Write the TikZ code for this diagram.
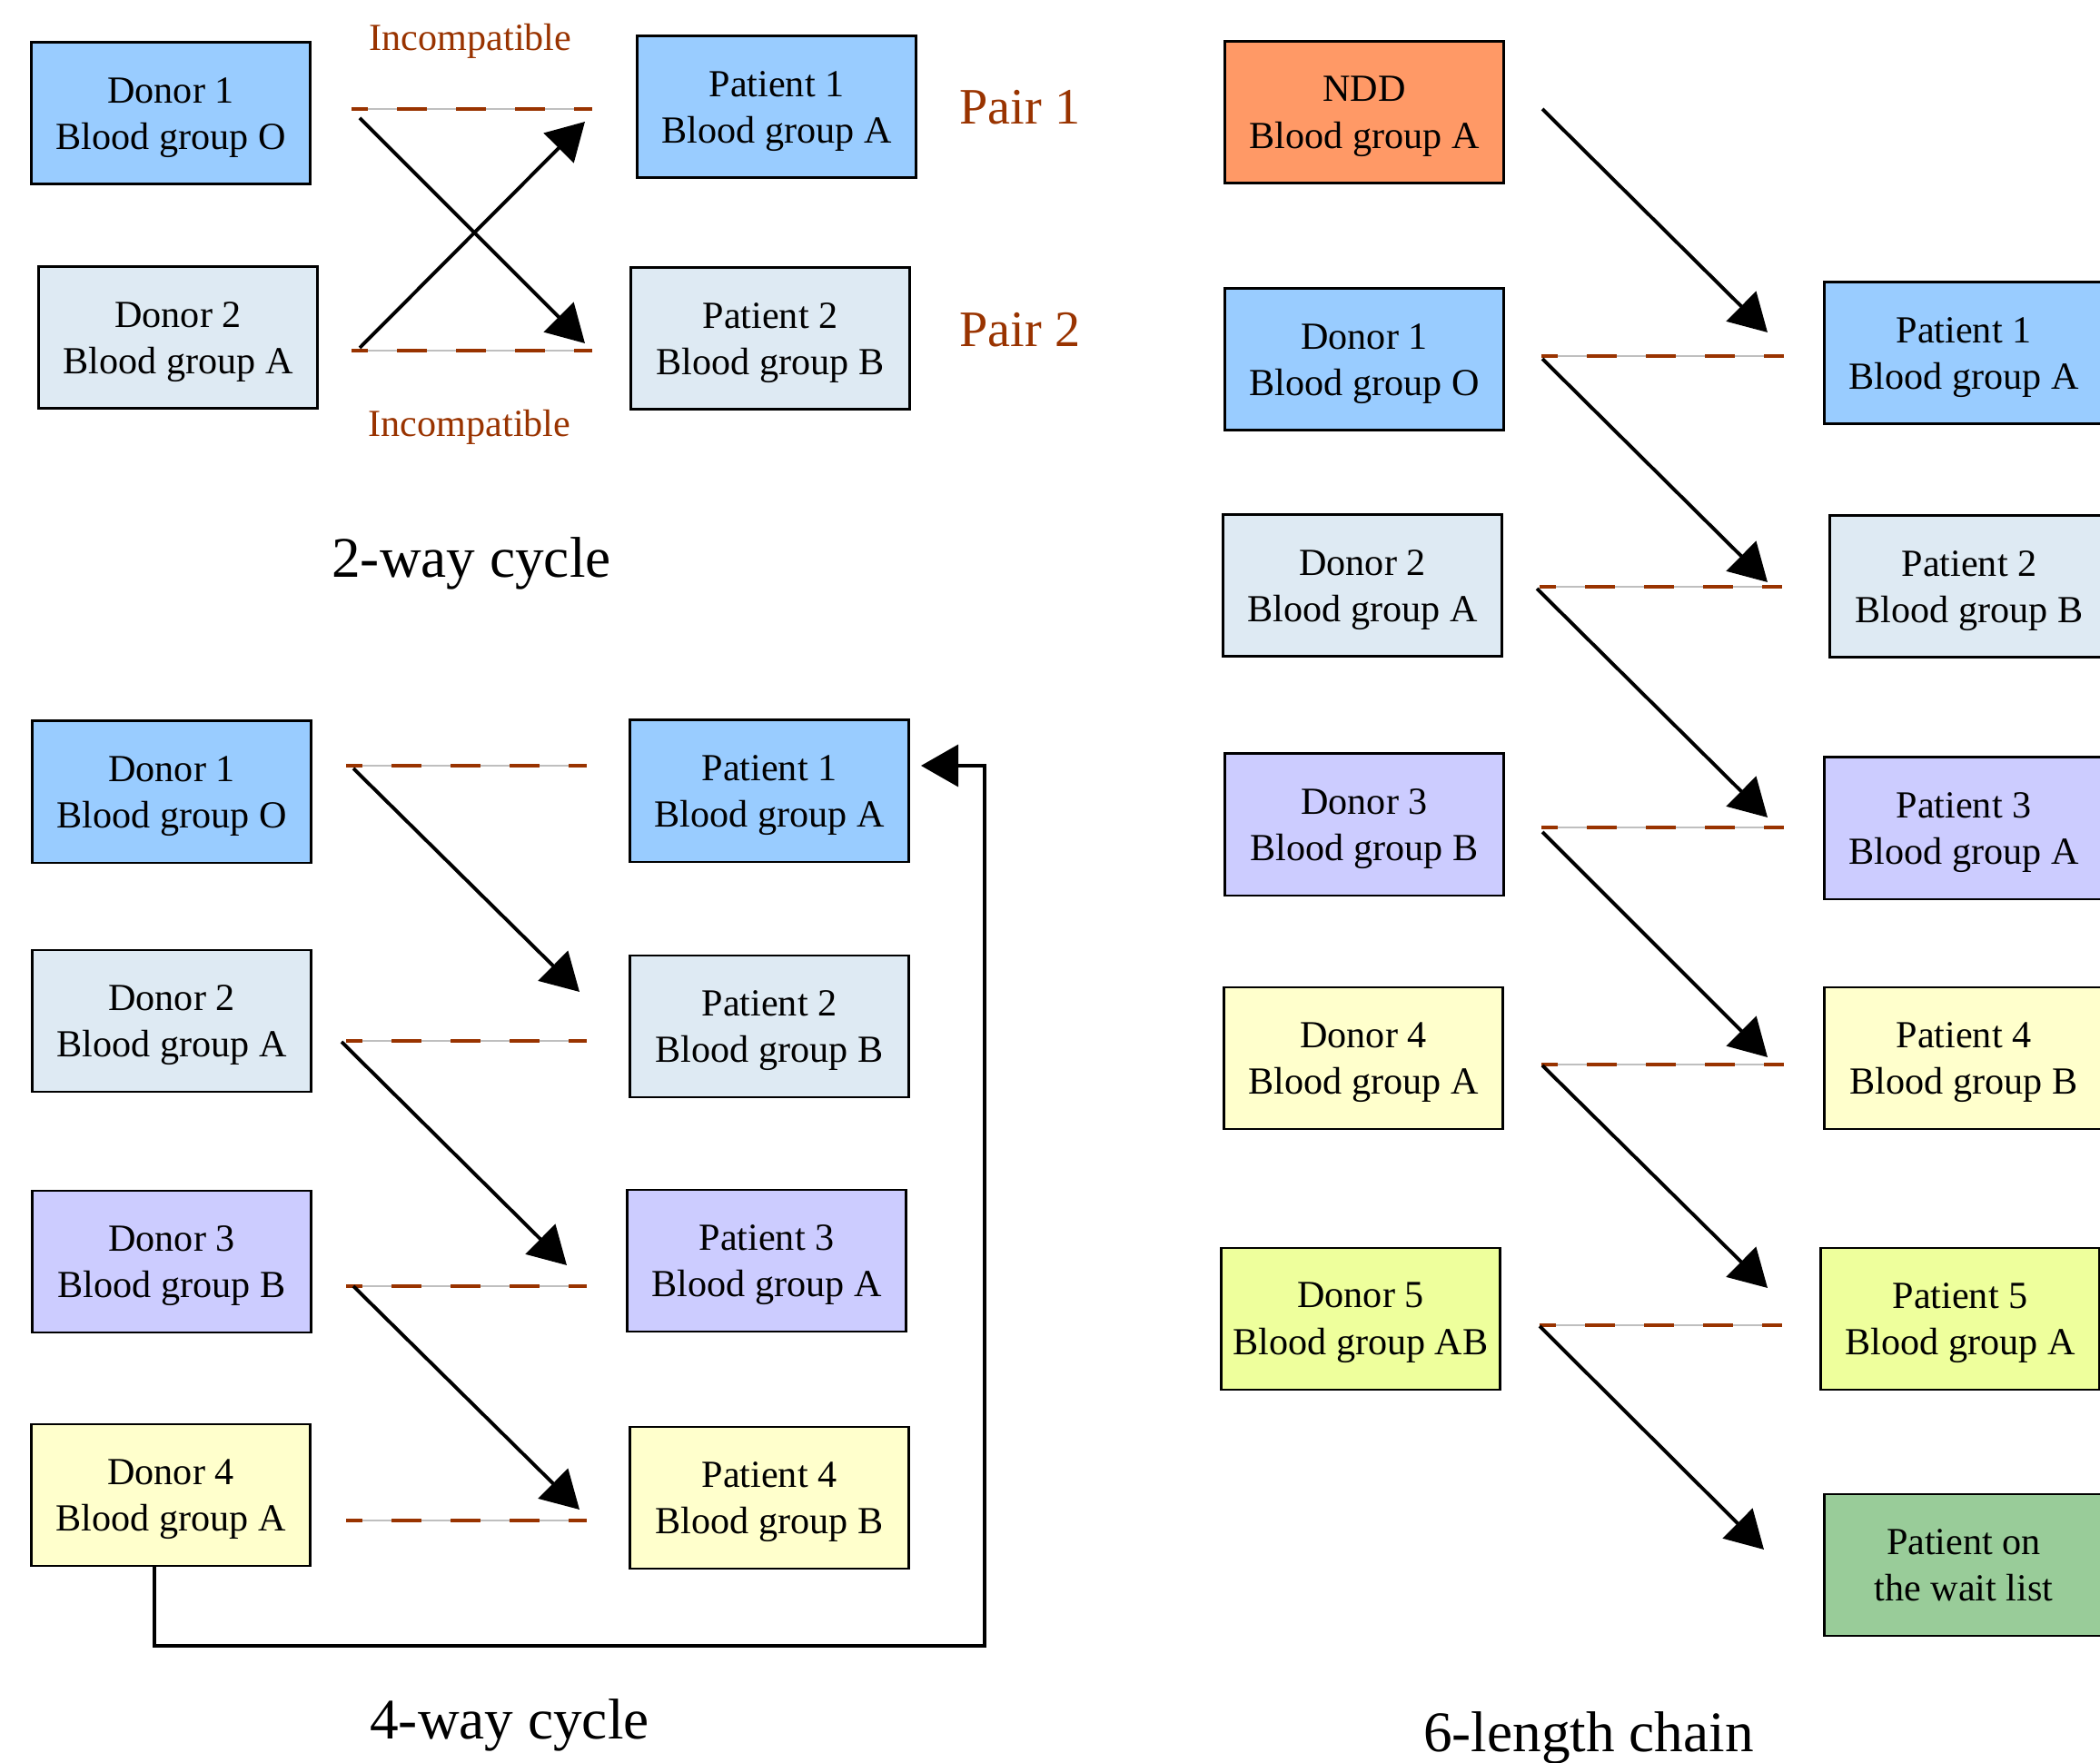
\documentclass[tikz,border=0pt]{standalone}
\usepackage{fontspec}
\setmainfont{Liberation Serif}
\usetikzlibrary{arrows.meta}
\definecolor{groupO}{HTML}{99CCFF}
\definecolor{groupA}{HTML}{DEEAF3}
\definecolor{groupB}{HTML}{CCCCFF}
\definecolor{groupC}{HTML}{FFFFCC}
\definecolor{groupD}{HTML}{EEFF9C}
\definecolor{nddcol}{HTML}{FF9966}
\definecolor{waitcol}{HTML}{99CC99}
\definecolor{incomp}{HTML}{993300}

\begin{document}
\begin{tikzpicture}
            \tikzstyle{box} = [draw, line width=0.85pt, minimum width=3.07cm, minimum height=1.56cm, align=center, text depth=0pt, font=\fontsize{12}{14.7}\selectfont]
            \tikzstyle{pairline} = [draw=black!25, line width=0.5pt, postaction={draw=incomp, line width=1.1pt, dash pattern=on 0.33cm off 0.32cm, dash phase=0.15cm}]
            \tikzstyle{give} = [line width=1.1pt, -{Triangle[length=0.41cm, width=0.46cm]}]
            \tikzstyle{note} = [text=incomp, font=\fontsize{12}{14}\selectfont]
            \tikzstyle{pairname} = [text=incomp, font=\fontsize{16}{19}\selectfont]
            \tikzstyle{title} = [font=\fontsize{18}{21}\selectfont]
            \useasboundingbox (0, 0) rectangle (23.12, -19.41);

            % 2-way cycle
            \node[box, fill=groupO] (twoD1) at (1.88, -1.25) {Donor 1\\Blood group O};
            \node[box, fill=groupA] (twoD2) at (1.96, -3.72) {Donor 2\\Blood group A};
            \node[box, fill=groupO] (twoP1) at (8.55, -1.18) {Patient 1\\Blood group A};
            \node[box, fill=groupA] (twoP2) at (8.48, -3.73) {Patient 2\\Blood group B};
            \node[note] (twoInc1) at (5.18, -0.45) {Incompatible};
            \node[note] (twoInc2) at (5.17, -4.70) {Incompatible};
            \node[pairname] (pair1) at (11.23, -1.18) {Pair 1};
            \node[pairname] (pair2) at (11.23, -3.63) {Pair 2};
            \node[title] (twoTitle) at (5.19, -6.20) {2-way cycle};
            \coordinate (twoL1) at (3.87, -1.20);
            \coordinate (twoR1) at (6.52, -1.20);
            \coordinate (twoL2) at (3.87, -3.86);
            \coordinate (twoR2) at (6.52, -3.86);
            \coordinate (twoS1) at (3.96, -1.30);
            \coordinate (twoT1) at (6.44, -3.78);
            \coordinate (twoS2) at (3.96, -3.83);
            \coordinate (twoT2) at (6.44, -1.34);
            \draw[pairline] (twoL1) -- (twoR1);
            \draw[pairline] (twoL2) -- (twoR2);
            \draw[give] (twoS1) -- (twoT1);
            \draw[give] (twoS2) -- (twoT2);

            % 4-way cycle
            \node[box, fill=groupO] (fourD1) at (1.89, -8.72) {Donor 1\\Blood group O};
            \node[box, fill=groupA] (fourD2) at (1.89, -11.24) {Donor 2\\Blood group A};
            \node[box, fill=groupB] (fourD3) at (1.89, -13.89) {Donor 3\\Blood group B};
            \node[box, fill=groupC] (fourD4) at (1.88, -16.46) {Donor 4\\Blood group A};
            \node[box, fill=groupO] (fourP1) at (8.47, -8.71) {Patient 1\\Blood group A};
            \node[box, fill=groupA] (fourP2) at (8.47, -11.30) {Patient 2\\Blood group B};
            \node[box, fill=groupB] (fourP3) at (8.44, -13.88) {Patient 3\\Blood group A};
            \node[box, fill=groupC] (fourP4) at (8.47, -16.49) {Patient 4\\Blood group B};
            \node[title] (fourTitle) at (5.61, -18.99) {4-way cycle};
            \coordinate (fourL1) at (3.81, -8.43);
            \coordinate (fourR1) at (6.46, -8.43);
            \coordinate (fourL2) at (3.81, -11.46);
            \coordinate (fourR2) at (6.46, -11.46);
            \coordinate (fourL3) at (3.81, -14.16);
            \coordinate (fourR3) at (6.46, -14.16);
            \coordinate (fourL4) at (3.81, -16.74);
            \coordinate (fourR4) at (6.46, -16.74);
            \draw[pairline] (fourL1) -- (fourR1);
            \draw[pairline] (fourL2) -- (fourR2);
            \draw[pairline] (fourL3) -- (fourR3);
            \draw[pairline] (fourL4) -- (fourR4);
            \coordinate (fourS1) at (3.89, -8.46);
            \coordinate (fourT1) at (6.38, -10.92);
            \coordinate (fourS2) at (3.76, -11.47);
            \coordinate (fourT2) at (6.24, -13.93);
            \coordinate (fourS3) at (3.89, -14.16);
            \coordinate (fourT3) at (6.38, -16.62);
            \draw[give] (fourS1) -- (fourT1);
            \draw[give] (fourS2) -- (fourT2);
            \draw[give] (fourS3) -- (fourT3);
            \coordinate (fourLoop) at (10.84, -18.12);
            \coordinate (fourBack) at (10.14, -8.43);
            \draw[give, line width=1pt] ([xshift=-0.18cm]fourD4.south) |- (fourLoop) |- (fourBack);

            % 6-length chain
            \node[box, fill=nddcol] (chainNDD) at (15.02, -1.24) {NDD\\Blood group A};
            \node[box, fill=groupO] (chainD1) at (15.02, -3.96) {Donor 1\\Blood group O};
            \node[box, fill=groupA] (chainD2) at (15.00, -6.45) {Donor 2\\Blood group A};
            \node[box, fill=groupB] (chainD3) at (15.02, -9.08) {Donor 3\\Blood group B};
            \node[box, fill=groupC] (chainD4) at (15.01, -11.65) {Donor 4\\Blood group A};
            \node[box, fill=groupD] (chainD5) at (14.98, -14.52) {Donor 5\\Blood group AB};
            \node[box, fill=groupO] (chainP1) at (21.62, -3.89) {Patient 1\\Blood group A};
            \node[box, fill=groupA] (chainP2) at (21.68, -6.46) {Patient 2\\Blood group B};
            \node[box, fill=groupB] (chainP3) at (21.62, -9.12) {Patient 3\\Blood group A};
            \node[box, fill=groupC] (chainP4) at (21.62, -11.65) {Patient 4\\Blood group B};
            \node[box, fill=groupD] (chainP5) at (21.58, -14.52) {Patient 5\\Blood group A};
            \node[box, fill=waitcol] (chainWait) at (21.62, -17.23) {Patient on\\the wait list};
            \node[title] (chainTitle) at (17.49, -19.13) {6-length chain};
            \coordinate (chainL1) at (16.97, -3.92);
            \coordinate (chainR1) at (19.64, -3.92);
            \coordinate (chainL2) at (16.95, -6.46);
            \coordinate (chainR2) at (19.62, -6.46);
            \coordinate (chainL3) at (16.97, -9.11);
            \coordinate (chainR3) at (19.64, -9.11);
            \coordinate (chainL4) at (16.97, -11.72);
            \coordinate (chainR4) at (19.64, -11.72);
            \coordinate (chainL5) at (16.95, -14.59);
            \coordinate (chainR5) at (19.62, -14.59);
            \draw[pairline] (chainL1) -- (chainR1);
            \draw[pairline] (chainL2) -- (chainR2);
            \draw[pairline] (chainL3) -- (chainR3);
            \draw[pairline] (chainL4) -- (chainR4);
            \draw[pairline] (chainL5) -- (chainR5);
            \coordinate (chainS0) at (16.98, -1.20);
            \coordinate (chainT0) at (19.46, -3.66);
            \coordinate (chainS1) at (16.98, -3.95);
            \coordinate (chainT1) at (19.46, -6.41);
            \coordinate (chainS2) at (16.92, -6.48);
            \coordinate (chainT2) at (19.46, -9.00);
            \coordinate (chainS3) at (16.98, -9.16);
            \coordinate (chainT3) at (19.46, -11.64);
            \coordinate (chainS4) at (16.98, -11.73);
            \coordinate (chainT4) at (19.46, -14.18);
            \coordinate (chainS5) at (16.95, -14.60);
            \coordinate (chainT5) at (19.42, -17.06);
            \draw[give] (chainS0) -- (chainT0);
            \draw[give] (chainS1) -- (chainT1);
            \draw[give] (chainS2) -- (chainT2);
            \draw[give] (chainS3) -- (chainT3);
            \draw[give] (chainS4) -- (chainT4);
            \draw[give] (chainS5) -- (chainT5);
\end{tikzpicture}
\end{document}
